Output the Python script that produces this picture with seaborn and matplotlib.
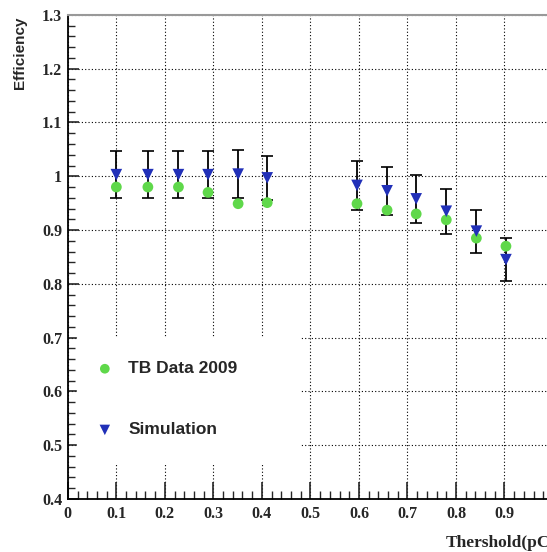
import numpy as np
import pandas as pd
import matplotlib
matplotlib.use("Agg")
import matplotlib.pyplot as plt
import seaborn as sns
from matplotlib.ticker import MultipleLocator

# threshold values (pC)
threshold = [0.10, 0.165, 0.228, 0.289, 0.351, 0.411, 0.596, 0.658, 0.718, 0.780, 0.842, 0.903]
# test beam data 2009
eff_data = [0.980, 0.980, 0.980, 0.970, 0.949, 0.951, 0.949, 0.937, 0.930, 0.919, 0.885, 0.870]
# simulation with error bars
eff_sim = [1.003, 1.003, 1.003, 1.003, 1.004, 0.997, 0.983, 0.973, 0.958, 0.935, 0.898, 0.845]
err_sim = [0.044, 0.044, 0.044, 0.044, 0.044, 0.041, 0.045, 0.045, 0.044, 0.042, 0.040, 0.040]

df = pd.DataFrame({"threshold": threshold, "data": eff_data, "sim": eff_sim, "err": err_sim})

sns.set_style("ticks")
plt.rcParams["font.family"] = ["Liberation Serif", "DejaVu Serif"]

fig = plt.figure(figsize=(5.47, 5.52), dpi=100)
ax = fig.add_axes([0.124, 0.096, 0.887, 0.877])

# error bars on the simulation
ax.errorbar(df["threshold"], df["sim"], yerr=df["err"], fmt="none", ecolor="black",
            elinewidth=1.3, capsize=4, capthick=1.2, zorder=2)

sns.scatterplot(data=df, x="threshold", y="data", ax=ax, color="#5fd84a", marker="o",
                s=60, edgecolor="none", label="TB Data 2009", zorder=3)
sns.scatterplot(data=df, x="threshold", y="sim", ax=ax, color="#2130b8", marker="v",
                s=70, edgecolor="none", label="Simulation", zorder=4)

ax.set_xlim(0, 1.0)
ax.set_ylim(0.4, 1.3)
ax.xaxis.set_minor_locator(MultipleLocator(0.02))
ax.yaxis.set_minor_locator(MultipleLocator(0.02))
ax.set_xticks(np.arange(0, 1.01, 0.1))
# the label at 1 falls outside the canvas in the original
ax.set_xticklabels(["0", "0.1", "0.2", "0.3", "0.4", "0.5", "0.6", "0.7", "0.8", "0.9", ""])
ax.set_yticks(np.arange(0.4, 1.31, 0.1))
ax.set_yticklabels(["0.4", "0.5", "0.6", "0.7", "0.8", "0.9", "1", "1.1", "1.2", "1.3"])

ax.tick_params(axis="x", which="major", direction="in", length=12, width=1.2, pad=5,
               labelsize=11.5)
ax.tick_params(axis="x", which="minor", direction="in", length=6, width=1.0)
ax.tick_params(axis="y", which="major", direction="in", length=8, width=1.2, pad=4,
               labelsize=11.5)
ax.tick_params(axis="y", which="minor", direction="in", length=5, width=1.0)
for lab in ax.get_xticklabels() + ax.get_yticklabels():
    lab.set_fontweight("bold")

ax.grid(True, which="major", color="black", linestyle=(0, (1, 2)), linewidth=0.8)
ax.set_axisbelow(True)

for side in ["left", "bottom"]:
    ax.spines[side].set_color("black")
    ax.spines[side].set_linewidth(1.3)
ax.spines["top"].set_color("#999999")
ax.spines["top"].set_linewidth(1.5)
ax.spines["right"].set_visible(False)

ax.set_xlabel("")
ax.set_ylabel("")

# white legend box that hides the grid but leaves the left ticks visible
leg = ax.legend(loc="upper left", bbox_to_anchor=(0.019, 0.08, 0.459, 0.255), mode="expand",
                frameon=True, framealpha=1, edgecolor="white", facecolor="white",
                prop={"family": "Liberation Sans", "weight": "bold", "size": 12.5},
                labelspacing=2.65, borderpad=1.4, handlelength=0.4, handletextpad=1.15,
                borderaxespad=0, fancybox=False, markerscale=0.9)
leg.set_zorder(5)

fig.text(0.037, 0.970, "Efficiency", rotation=90, ha="center", va="top",
         family="Liberation Sans", fontweight="bold", fontsize=11)
fig.text(0.814, 0.016, "Thershold(pC)", ha="left", va="center",
         fontweight="bold", fontsize=12.5)

fig.savefig("out.png", dpi=100)
